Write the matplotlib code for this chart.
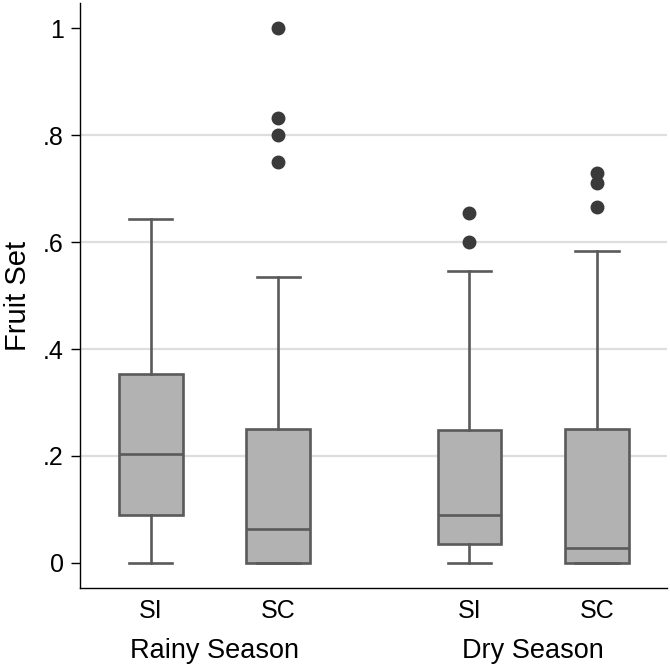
import matplotlib.pyplot as plt

plt.rcParams['font.family'] = ['Liberation Sans', 'DejaVu Sans']

# box statistics
labels = ['SI', 'SC', 'SI', 'SC']
groups = ['Rainy Season', 'Dry Season']
whislo = [0.0, 0.0, 0.0, 0.0]
q1 = [0.090, 0.0, 0.036, 0.0]
med = [0.204, 0.064, 0.090, 0.028]
q3 = [0.354, 0.251, 0.248, 0.250]
whishi = [0.644, 0.534, 0.545, 0.583]
fliers = [[], [1.0, 0.832, 0.80, 0.75], [0.655, 0.60], [0.729, 0.711, 0.666]]

positions = [1, 2, 3.5, 4.5]

stats = []
for i in range(len(labels)):
    stats.append(dict(whislo=whislo[i], q1=q1[i], med=med[i], q3=q3[i],
                      whishi=whishi[i], fliers=fliers[i], label=labels[i]))

fig = plt.figure(figsize=(6.7, 6.66), dpi=100)
ax = fig.add_axes([0.119, 0.117, 0.8765, 0.8785])

edge = '#5a5a5a'
lw = 1.9
ax.bxp(stats, positions=positions, widths=0.5, capwidths=0.34,
       patch_artist=True, zorder=3,
       boxprops=dict(facecolor='#b2b2b2', edgecolor=edge, linewidth=lw),
       medianprops=dict(color=edge, linewidth=lw),
       whiskerprops=dict(color=edge, linewidth=lw),
       capprops=dict(color=edge, linewidth=lw),
       flierprops=dict(marker='o', markerfacecolor='#3a3a3a',
                       markeredgecolor='#3a3a3a', markersize=9))

ax.set_xlim(0.443, 5.05)
ax.set_ylim(-0.047, 1.047)
yt = [0, 0.2, 0.4, 0.6, 0.8, 1.0]
ax.set_yticks(yt)
ax.set_yticklabels(['0', '.2', '.4', '.6', '.8', '1'])
for y in yt[1:-1]:
    ax.axhline(y, color='#dedede', linewidth=1.6, zorder=0)

ax.tick_params(axis='y', labelsize=18, length=6.5, width=1, pad=5)
ax.tick_params(axis='x', labelsize=18, length=0, pad=8)
ax.spines['top'].set_visible(False)
ax.spines['right'].set_visible(False)
ax.spines['left'].set_linewidth(1)
ax.spines['bottom'].set_linewidth(1)

ax.set_ylabel('Fruit Set', fontsize=21, labelpad=8)

for k, g in enumerate(groups):
    xc = (positions[2 * k] + positions[2 * k + 1]) / 2
    ax.text(xc, -0.108, g, ha='center', va='center', fontsize=19.5,
            transform=ax.get_xaxis_transform())

fig.savefig('out.png', dpi=100)
